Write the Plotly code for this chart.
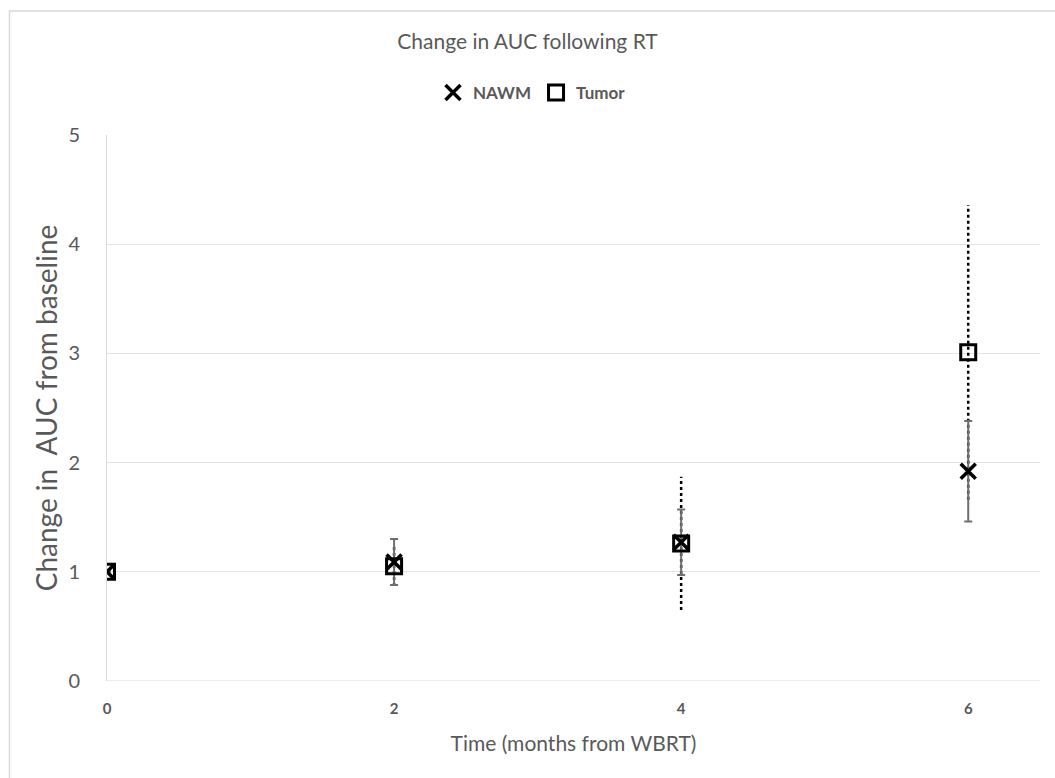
import plotly.graph_objects as go

# Months after whole-brain radiotherapy
time = [0, 2, 4, 6]

# Mean change in AUC relative to baseline, with error magnitudes
nawm = [1.0, 1.09, 1.27, 1.92]
nawm_err = [0.0, 0.21, 0.30, 0.46]
tumor = [1.0, 1.05, 1.26, 3.01]
tumor_err = [0.0, 0.18, 0.61, 1.35]

x_ticks = [0, 2, 4, 6]
y_ticks = [0, 1, 2, 3, 4, 5]

FONT = "Lato, 'Open Sans', sans-serif"
GREY_TXT = "#595959"

fig = go.Figure()

# Tumor error bars drawn as dotted vertical segments
seg_x, seg_y = [], []
for t, v, e in zip(time, tumor, tumor_err):
    if e > 0:
        seg_x += [t, t, None]
        seg_y += [v - e, v + e, None]
fig.add_trace(go.Scatter(
    x=seg_x, y=seg_y, mode="lines",
    line=dict(color="black", width=2.5, dash="dot"),
    showlegend=False, hoverinfo="skip",
))

fig.add_trace(go.Scatter(
    x=time, y=nawm, mode="markers", name="NAWM",
    marker=dict(symbol="x-thin", size=15, color="black",
                line=dict(color="black", width=3.5)),
    error_y=dict(type="data", array=nawm_err, visible=True,
                 color="#6f6f6f", thickness=2, width=4),
))

fig.add_trace(go.Scatter(
    x=time, y=tumor, mode="markers", name="Tumor",
    marker=dict(symbol="square-open", size=15, color="black",
                line=dict(color="black", width=3)),
))

# Outer chart frame
L, R, T, B = 107, 15, 135, 97
W, H = 1055, 778
pw, ph = W - L - R, H - T - B


def px_to_paper_x(px):
    return (px - L) / pw


def px_to_paper_y(py):
    return (H - B - py) / ph


fig.add_shape(type="rect", xref="paper", yref="paper",
              x0=px_to_paper_x(9.5), x1=px_to_paper_x(1070),
              y0=px_to_paper_y(800), y1=px_to_paper_y(11),
              line=dict(color="#d9d9d9", width=1.5), layer="below")

fig.update_layout(
    width=W, height=H,
    margin=dict(l=L, r=R, t=T, b=B, autoexpand=False),
    paper_bgcolor="white", plot_bgcolor="white",
    font=dict(family=FONT, color=GREY_TXT),
    title=dict(text="Change in AUC following RT", x=0.5, xref="container",
               y=1 - 42 / H, yref="container", yanchor="middle",
               xanchor="center",
               font=dict(size=21, color=GREY_TXT, family=FONT)),
    legend=dict(orientation="h", x=px_to_paper_x(532), xanchor="center",
                xref="paper", yref="paper",
                y=px_to_paper_y(93), yanchor="middle",
                font=dict(size=17, color=GREY_TXT, family=FONT, weight="bold"),
                itemwidth=30, bgcolor="rgba(0,0,0,0)"),
    xaxis=dict(range=[0, 6.5], tickvals=x_ticks,
               ticktext=[str(v) for v in x_ticks],
               showgrid=False, zeroline=False,
               showline=False, ticks="",
               tickfont=dict(size=15, color=GREY_TXT, family=FONT, weight="bold"),
               ticklabelstandoff=17,
               title=dict(text="Time (months from WBRT)",
                          font=dict(size=21, color=GREY_TXT, family=FONT),
                          standoff=20)),
    yaxis=dict(range=[0, 5], tickvals=y_ticks,
               showgrid=True, gridcolor="#e3e3e3", gridwidth=1,
               zeroline=False, showline=True, linecolor="#d9d9d9",
               linewidth=1, ticks="",
               tickfont=dict(size=20, color=GREY_TXT, family=FONT),
               ticklabelstandoff=22,
               title=dict(text="Change in  AUC from baseline",
                          font=dict(size=28, color=GREY_TXT, family=FONT),
                          standoff=2)),
)

# Horizontal axis baseline
fig.add_shape(type="line", xref="paper", yref="y",
              x0=0, x1=1, y0=0, y1=0,
              line=dict(color="#d9d9d9", width=1))

fig.write_html("out.html")
